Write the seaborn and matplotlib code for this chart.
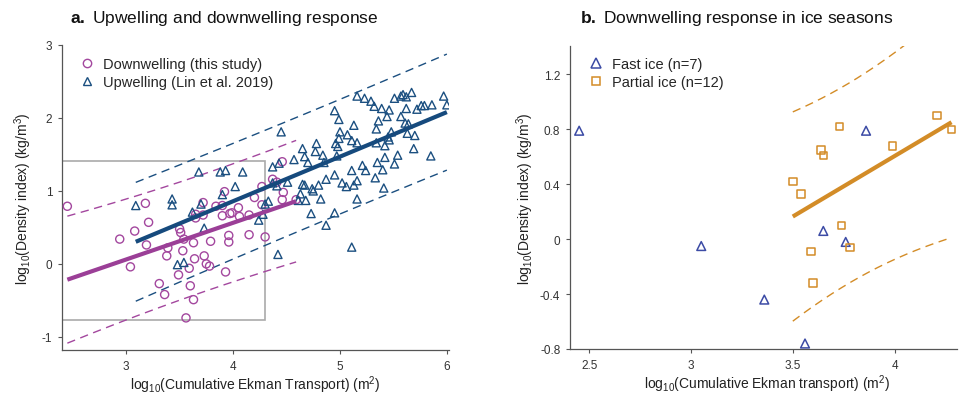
import numpy as np
import matplotlib
matplotlib.use("Agg")
import matplotlib.pyplot as plt
import seaborn as sns
from matplotlib.lines import Line2D
from matplotlib.patches import Rectangle

# ---------------- data ----------------
down_x = [2.45, 3.18, 3.21, 3.08, 2.94, 3.19, 3.04, 3.31, 3.36, 3.39, 3.38, 3.50, 3.51, 3.54,
          3.53, 3.49, 3.59, 3.60, 3.63, 3.56, 3.64, 3.63, 3.73, 3.75, 3.78, 3.79, 3.93, 3.72,
          3.72, 3.65, 3.65, 3.84, 3.90, 3.92, 3.90, 3.97, 3.99, 4.05, 4.06, 3.96, 3.96, 4.15,
          4.15, 4.20, 4.27, 4.27, 4.30, 4.37, 4.41, 4.46, 4.47, 4.46, 4.59]
down_y = [0.79, 0.83, 0.57, 0.45, 0.34, 0.26, -0.04, -0.27, -0.42, 0.22, 0.11, 0.48, 0.43, 0.34,
          0.18, -0.15, -0.06, -0.30, -0.49, -0.74, 0.07, 0.29, 0.11, 0.00, -0.03, 0.31, -0.11, 0.84,
          0.67, 0.68, 0.63, 0.79, 0.80, 0.99, 0.66, 0.69, 0.70, 0.77, 0.65, 0.39, 0.30, 0.40,
          0.67, 0.91, 1.06, 0.81, 0.37, 1.16, 1.12, 1.40, 0.98, 0.88, 0.88]

up_x = [3.09, 3.43, 3.43, 3.68, 3.88, 3.93, 4.09, 4.02, 3.90, 3.70,
        3.62, 3.73, 3.48, 3.54, 4.24, 4.28, 4.30, 4.33, 4.37, 4.43,
        4.37, 4.41, 4.42, 4.45, 4.57, 4.65, 4.67, 4.70, 4.65, 4.67,
        4.63, 4.68, 4.61, 4.73, 4.74, 4.75, 4.80, 4.78, 4.77, 4.84,
        4.85, 4.82, 4.87, 4.87, 4.95, 4.95, 4.97, 4.95, 4.99, 5.00,
        4.99, 5.07, 4.96, 4.98, 5.11, 5.16, 5.13, 5.02, 5.06, 5.13,
        5.16, 5.16, 5.11, 5.21, 5.24, 5.11, 5.16, 5.23, 5.29, 5.32,
        5.39, 5.46, 5.36, 5.44, 5.34, 5.48, 5.45, 5.46, 5.42, 5.34,
        5.35, 5.42, 5.40, 5.33, 5.41, 5.51, 5.57, 5.59, 5.62, 5.67,
        5.57, 5.62, 5.72, 5.76, 5.79, 5.86, 6.00, 5.97, 5.61, 5.64,
        5.63, 5.70, 5.69, 5.85, 5.54, 5.51, 4.51]
up_y = [0.80, 0.89, 0.81, 1.26, 1.26, 1.28, 1.26, 1.06, 0.95, 0.82,
        0.71, 0.49, -0.01, 0.02, 0.60, 0.68, 0.82, 0.86, 1.33, 1.38,
        1.11, 1.07, 0.13, 1.81, 1.43, 1.58, 1.47, 1.39, 1.09, 1.08,
        0.96, 0.87, 0.87, 0.69, 1.03, 1.00, 1.08, 1.65, 1.54, 1.49,
        1.39, 0.89, 1.16, 0.53, 0.70, 1.22, 1.48, 2.10, 1.98, 1.81,
        1.72, 1.77, 1.65, 1.61, 1.69, 1.66, 1.90, 1.11, 1.06, 1.08,
        1.14, 0.89, 1.28, 1.35, 1.28, 0.23, 2.30, 2.27, 2.23, 2.16,
        2.13, 2.11, 1.96, 2.02, 1.85, 1.81, 1.74, 1.70, 1.62, 1.66,
        1.39, 1.46, 1.29, 1.18, 1.04, 2.27, 2.30, 2.32, 2.29, 2.35,
        2.02, 2.13, 2.12, 2.17, 2.17, 2.18, 2.18, 2.30, 1.93, 1.92,
        1.79, 1.76, 1.58, 1.48, 1.49, 1.37, 1.12]

fast_x = [2.45, 3.05, 3.36, 3.56, 3.65, 3.76, 3.86]
fast_y = [0.79, -0.05, -0.44, -0.76, 0.06, -0.02, 0.79]
partial_x = [3.50, 3.54, 3.64, 3.65, 3.73, 3.99, 4.21, 4.28, 3.74, 3.59, 3.78, 3.60]
partial_y = [0.42, 0.33, 0.65, 0.61, 0.82, 0.68, 0.90, 0.80, 0.10, -0.09, -0.06, -0.32]

zoom_box_x = [2.40, 4.30]
zoom_box_y = [-0.77, 1.41]

labels_a = ["Downwelling (this study)", "Upwelling (Lin et al. 2019)"]
labels_b = ["Fast ice (n=7)", "Partial ice (n=12)"]
xticks_a = [3, 4, 5, 6]
yticks_a = [-1, 0, 1, 2, 3]
xticks_b = [2.5, 3, 3.5, 4]
xticklabels_b = ["2.5", "3", "3.5", "4"]
yticks_b = [-0.8, -0.4, 0, 0.4, 0.8, 1.2]
yticklabels_b = ["-0.8", "-0.4", "0", "0.4", "0.8", "1.2"]

# ---------------- style ----------------
sns.set_style("ticks")
plt.rcParams["font.family"] = ["Liberation Sans", "DejaVu Sans"]
plt.rcParams["mathtext.fontset"] = "custom"
plt.rcParams["mathtext.rm"] = "Liberation Sans"
plt.rcParams["mathtext.it"] = "Liberation Sans:italic"
plt.rcParams["mathtext.bf"] = "Liberation Sans:bold"
plt.rcParams["axes.unicode_minus"] = False

C_DOWN = "#A3479E"
C_DOWN_LINE = "#9B3F97"
C_UP = "#1B4F80"
C_UP_LINE = "#164A7D"
C_FAST = "#3C4BA5"
C_PART = "#D38C27"
SPINE = "#555555"
TXT = "#222222"


def fit_band(x, y, z=1.96, n=200):
    x = np.asarray(x, float)
    y = np.asarray(y, float)
    b, a = np.polyfit(x, y, 1)
    xs = np.linspace(x.min(), x.max(), n)
    yhat = a + b * xs
    resid = y - (a + b * x)
    s = np.sqrt(np.sum(resid ** 2) / (len(x) - 2))
    sxx = np.sum((x - x.mean()) ** 2)
    hw = z * s * np.sqrt(1 + 1 / len(x) + (xs - x.mean()) ** 2 / sxx)
    return xs, yhat, yhat - hw, yhat + hw


def style_axes(ax):
    sns.despine(ax=ax)
    for sp in ("left", "bottom"):
        ax.spines[sp].set_color(SPINE)
        ax.spines[sp].set_linewidth(0.9)
    ax.tick_params(direction="out", length=3, width=0.8, color=SPINE,
                   labelsize=8.5, labelcolor="#333333", pad=4)


W, H = 961, 402
fig = plt.figure(figsize=(W / 100, H / 100), dpi=100)
axA = fig.add_axes([62 / W, 51 / H, 387 / W, 305 / H])
axB = fig.add_axes([570 / W, 52 / H, 387 / W, 303 / H])

# ---------------- panel a ----------------
axA.add_patch(Rectangle((zoom_box_x[0], zoom_box_y[0]), zoom_box_x[1] - zoom_box_x[0],
                        zoom_box_y[1] - zoom_box_y[0], fill=False, edgecolor="#AAAAAA",
                        lw=1.2, zorder=1))

for xd, yd, col in [(down_x, down_y, C_DOWN), (up_x, up_y, C_UP)]:
    xs, yh, lo, hi = fit_band(xd, yd)
    axA.plot(xs, lo, ls=(0, (6, 4)), color=col, lw=1.0, zorder=2)
    axA.plot(xs, hi, ls=(0, (6, 4)), color=col, lw=1.0, zorder=2)

sns.scatterplot(x=down_x, y=down_y, ax=axA, marker="o", s=34, facecolor="none",
                edgecolor=C_DOWN, linewidth=1.0, zorder=3, legend=False)
sns.scatterplot(x=up_x, y=up_y, ax=axA, marker="^", s=34, facecolor="none",
                edgecolor=C_UP, linewidth=1.0, zorder=3, legend=False)

for xd, yd, lcol in [(down_x, down_y, C_DOWN_LINE), (up_x, up_y, C_UP_LINE)]:
    xs, yh, lo, hi = fit_band(xd, yd)
    axA.plot(xs, yh, color=lcol, lw=3.0, zorder=4, solid_capstyle="butt")

axA.set_xlim(2.4, 6.02)
axA.set_ylim(-1.18, 3.0)
axA.set_xticks(xticks_a)
axA.set_yticks(yticks_a)
style_axes(axA)
axA.set_xlabel(r"log$_{10}$(Cumulative Ekman Transport) (m$^2$)", fontsize=10, color=TXT)
axA.set_ylabel(r"log$_{10}$(Density index) (kg/m$^3$)", fontsize=10, color=TXT)
axA.xaxis.set_label_coords(0.5, -0.078)
axA.yaxis.set_label_coords(-0.072, 0.5)

hA = [Line2D([], [], ls="none", marker="o", ms=6, mfc="none", mec=C_DOWN, mew=1.0),
      Line2D([], [], ls="none", marker="^", ms=6, mfc="none", mec=C_UP, mew=1.0)]
axA.legend(hA, labels_a, loc="upper left", bbox_to_anchor=(80 / W, 1 - 58 / H),
           bbox_transform=fig.transFigure, frameon=False, fontsize=10.5,
           handlelength=1.0, handletextpad=0.6, labelspacing=0.25, borderpad=0,
           borderaxespad=0)

# ---------------- panel b ----------------
xs, yh, lo, hi = fit_band(partial_x, partial_y)
axB.plot(xs, lo, ls=(0, (6, 4)), color=C_PART, lw=1.0, zorder=2)
axB.plot(xs, hi, ls=(0, (6, 4)), color=C_PART, lw=1.0, zorder=2)
axB.plot(xs, yh, color=C_PART, lw=3.0, zorder=4, solid_capstyle="butt")

sns.scatterplot(x=fast_x, y=fast_y, ax=axB, marker="^", s=40, facecolor="none",
                edgecolor=C_FAST, linewidth=1.1, zorder=3, legend=False)
sns.scatterplot(x=partial_x, y=partial_y, ax=axB, marker="s", s=30, facecolor="none",
                edgecolor=C_PART, linewidth=1.1, zorder=3, legend=False)

axB.set_xlim(2.405, 4.307)
axB.set_ylim(-0.8, 1.407)
axB.set_xticks(xticks_b)
axB.set_xticklabels(xticklabels_b)
axB.set_yticks(yticks_b)
axB.set_yticklabels(yticklabels_b)
style_axes(axB)
axB.set_xlabel(r"log$_{10}$(Cumulative Ekman transport) (m$^2$)", fontsize=10, color=TXT)
axB.set_ylabel(r"log$_{10}$(Density index) (kg/m$^3$)", fontsize=10, color=TXT)
axB.xaxis.set_label_coords(0.51, -0.078)
axB.yaxis.set_label_coords(-0.088, 0.5)

hB = [Line2D([], [], ls="none", marker="^", ms=6.5, mfc="none", mec=C_FAST, mew=1.1),
      Line2D([], [], ls="none", marker="s", ms=5.5, mfc="none", mec=C_PART, mew=1.1)]
axB.legend(hB, labels_b, loc="upper left", bbox_to_anchor=(589 / W, 1 - 58 / H),
           bbox_transform=fig.transFigure, frameon=False, fontsize=10.5,
           handlelength=1.0, handletextpad=0.6, labelspacing=0.25, borderpad=0,
           borderaxespad=0)

# ---------------- titles ----------------
fig.text(70 / W, 1 - 18 / H, r"$\bf{a.}$ Upwelling and downwelling response",
         fontsize=12.5, color="#111111", va="center", ha="left")
fig.text(580 / W, 1 - 18 / H, r"$\bf{b.}$ Downwelling response in ice seasons",
         fontsize=12.5, color="#111111", va="center", ha="left")

fig.savefig("out.png", dpi=100)
